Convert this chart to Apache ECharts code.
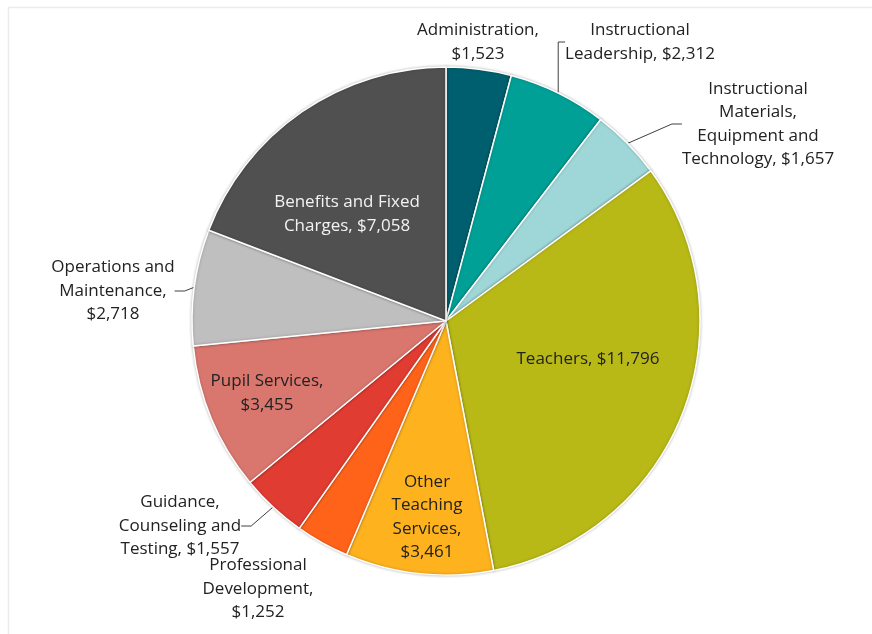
<!DOCTYPE html>
<html>
<head>
<meta charset="utf-8">
<script src="https://cdn.jsdelivr.net/npm/echarts@6/dist/echarts.min.js"></script>
<style>
  html, body { margin: 0; padding: 0; background: #fff; }
  #chart { width: 872px; height: 634px; }
</style>
</head>
<body>
<div id="chart"></div>
<script>
// Per-student spending by category, clockwise from 12 o'clock
var categories = [
  'Administration',
  'Instructional\nLeadership',
  'Instructional\nMaterials,\nEquipment and\nTechnology',
  'Teachers',
  'Other\nTeaching\nServices',
  'Professional\nDevelopment',
  'Guidance,\nCounseling and\nTesting',
  'Pupil Services',
  'Operations and\nMaintenance',
  'Benefits and Fixed\nCharges'
];
var amounts = [1523, 2312, 1657, 11796, 3461, 1252, 1557, 3455, 2718, 7058];
var colors = ['#005f6e', '#00a096', '#9fd7d8', '#b8b916', '#fdb21e',
              '#ff6319', '#e03c31', '#d9776f', '#bfbfbf', '#505050'];

// Label text: name joined with the dollar amount
var labelText = [
  'Administration,\n{v}',
  'Instructional\nLeadership, {v}',
  'Instructional\nMaterials,\nEquipment and\nTechnology, {v}',
  'Teachers, {v}',
  'Other\nTeaching\nServices,\n{v}',
  'Professional\nDevelopment,\n{v}',
  'Guidance,\nCounseling and\nTesting, {v}',
  'Pupil Services,\n{v}',
  'Operations and\nMaintenance,\n{v}',
  'Benefits and Fixed\nCharges, {v}'
];
// Label placement (centre of text block)
var labelAnchor = [
  [478, 42], [640, 42], [758, 124], [588, 359], [427, 517],
  [258, 589], [180, 526], [267, 393], [113, 291], [347, 214]
];
var showLine = [false, true, true, false, false, false, true, false, true, false];

function money(v) {
  return '$' + v.toLocaleString('en-US');
}

var data = amounts.map(function (v, i) {
  return {
    name: categories[i].replace(/\n/g, ' '),
    value: v,
    itemStyle: { color: colors[i] },
    label: {
      formatter: labelText[i].replace('{v}', money(v)),
      color: i === 9 ? '#f2f2f2' : '#222222'
    },
    labelLine: { show: showLine[i] }
  };
});

var chart = echarts.init(document.getElementById('chart'), null, { renderer: 'canvas' });
chart.setOption({
  animation: false,
  backgroundColor: '#ffffff',
  graphic: [{
    type: 'polyline',
    shape: { points: [[8.5, 640], [8.5, 7.5], [880, 7.5]] },
    style: { stroke: '#ececec', lineWidth: 1.5, fill: null }
  }],
  series: [{
    type: 'pie',
    center: [446, 321],
    radius: 254,
    startAngle: 90,
    clockwise: true,
    avoidLabelOverlap: false,
    itemStyle: {
      borderColor: '#ffffff',
      borderWidth: 1.5,
      shadowBlur: 3,
      shadowColor: 'rgba(0,0,0,0.25)'
    },
    label: {
      show: true,
      position: 'outside',
      fontFamily: 'Open Sans',
      fontSize: 17,
      lineHeight: 23.5,
      align: 'center'
    },
    labelLine: {
      show: true,
      lineStyle: { color: '#404040', width: 1 },
      length: 10,
      length2: 10
    },
    labelLayout: function (params) {
      var p = labelAnchor[params.dataIndex];
      return {
        x: p[0],
        y: p[1],
        align: 'center',
        verticalAlign: 'middle'
      };
    },
    data: data
  }]
});
</script>
</body>
</html>
